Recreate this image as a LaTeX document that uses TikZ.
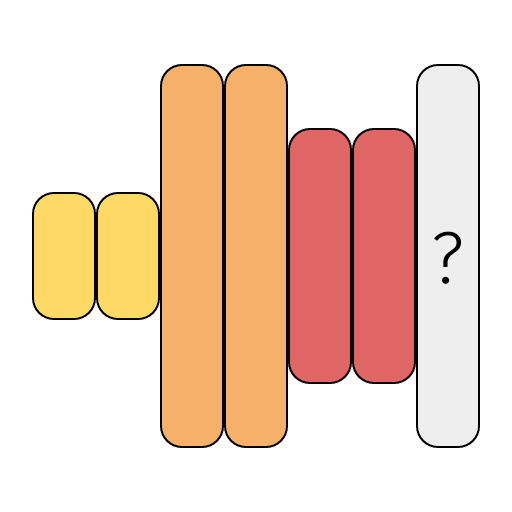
\documentclass[tikz,border=0pt]{standalone}
\usepackage{xcolor}
\usepackage{fontspec}
\usepackage{tikz}
\usetikzlibrary{positioning}
\newfontfamily\qfont{Fira Sans Light}
\definecolor{barYellow}{HTML}{FFD966}
\definecolor{barOrange}{HTML}{F5B06A}
\definecolor{barRed}{HTML}{E06666}
\definecolor{barGray}{HTML}{EEEEEE}

\tikzset{
  bar/.style={draw=black, line width=1.1pt, rounded corners=0.42cm, minimum width=1.24cm, inner sep=0pt, outer sep=0pt},
  shortbar/.style={bar, fill=barYellow, minimum height=2.52cm},
  tallbar/.style={bar, fill=barOrange, minimum height=7.64cm},
  midbar/.style={bar, fill=barRed, minimum height=5.08cm},
  unknownbar/.style={bar, fill=barGray, minimum height=7.64cm}
}

\begin{document}
\begin{tikzpicture}
    \useasboundingbox (0,0) rectangle (10.24,10.24);
    \node[shortbar] (yellowA) at (1.28,5.12) {};
    \node[shortbar, right=0.04cm of yellowA] (yellowB) {};
    \node[tallbar] (orangeA) at (3.84,5.12) {};
    \node[tallbar, right=0.04cm of orangeA] (orangeB) {};
    \node[midbar] (redA) at (6.4,5.12) {};
    \node[midbar, right=0.04cm of redA] (redB) {};
    \node[unknownbar] (unknown) at (8.96,5.12) {};
    \node[font=\qfont\fontsize{42}{46}\selectfont] (qmark) at ([yshift=-0.04cm]unknown.center) {?};
  \end{tikzpicture}
\end{document}
